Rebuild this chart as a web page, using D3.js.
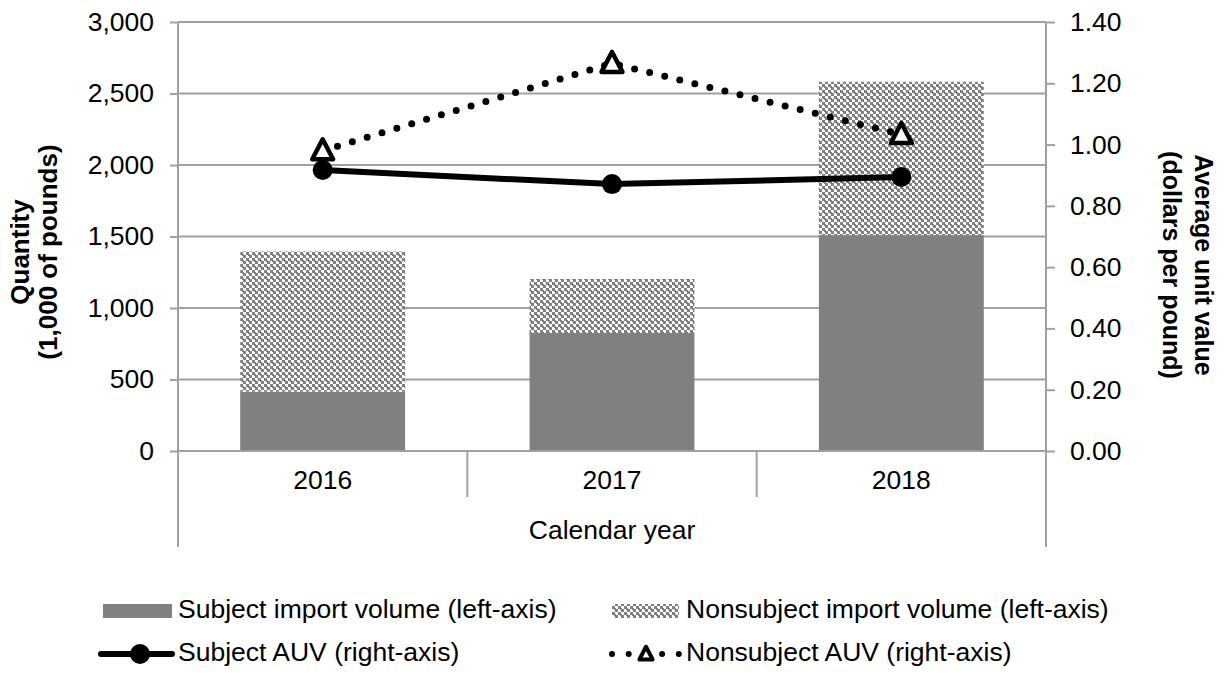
<!DOCTYPE html>
<html>
<head>
<meta charset="utf-8">
<script src="https://cdn.jsdelivr.net/npm/d3@7"></script>
<style>
  body { margin: 0; background: #fff; }
  text { font-family: "Liberation Sans", Arial, sans-serif; fill: #000; }
</style>
</head>
<body>
<script>
const years = ["2016", "2017", "2018"];
const subjectVolume = [415, 825, 1510];
const nonsubjectVolume = [980, 378, 1072];
const subjectAUV = [0.917, 0.871, 0.894];
const nonsubjectAUV = [0.980, 1.265, 1.033];
const leftTicks = [0, 500, 1000, 1500, 2000, 2500, 3000];
const rightTicks = [0, 0.2, 0.4, 0.6, 0.8, 1.0, 1.2, 1.4];

const W = 1228, H = 675;
const plot = { left: 178, right: 1046, top: 22, bottom: 451 };
const gridColor = "#a0a0a0";
const fs = "26.5px";

const svg = d3.select("body").append("svg")
    .attr("width", W)
    .attr("height", H);

// checker pattern for nonsubject bars
const defs = svg.append("defs");
const pat = defs.append("pattern")
    .attr("id", "checker")
    .attr("patternUnits", "userSpaceOnUse")
    .attr("width", 6)
    .attr("height", 6);
pat.append("rect").attr("width", 6).attr("height", 6).attr("fill", "#fff");
pat.append("rect").attr("x", 0).attr("y", 0).attr("width", 3).attr("height", 3).attr("fill", "#808080");
pat.append("rect").attr("x", 3).attr("y", 3).attr("width", 3).attr("height", 3).attr("fill", "#808080");
pat.append("rect").attr("x", 2).attr("y", 2).attr("width", 2).attr("height", 2).attr("fill", "#808080");
pat.append("rect").attr("x", 5).attr("y", 5).attr("width", 2).attr("height", 2).attr("fill", "#808080");

const x = d3.scaleBand()
    .domain(years)
    .range([plot.left, plot.right]);
const barW = x.bandwidth() * 0.57;

const yLeft = d3.scaleLinear()
    .domain([0, 3000])
    .range([plot.bottom, plot.top]);

const yRight = d3.scaleLinear()
    .domain([0, 1.4])
    .range([plot.bottom, plot.top]);

// gridlines
svg.append("g")
    .selectAll("line")
    .data(leftTicks.slice(1))
    .join("line")
    .attr("x1", plot.left)
    .attr("x2", plot.right)
    .attr("y1", d => yLeft(d))
    .attr("y2", d => yLeft(d))
    .attr("stroke", gridColor)
    .attr("stroke-width", 2);

// bars
const bars = svg.append("g");
bars.selectAll(".subj")
    .data(years)
    .join("rect")
    .attr("class", "subj")
    .attr("x", d => x(d) + (x.bandwidth() - barW) / 2)
    .attr("width", barW)
    .attr("y", (d, i) => yLeft(subjectVolume[i]))
    .attr("height", (d, i) => yLeft(0) - yLeft(subjectVolume[i]))
    .attr("fill", "#808080");

bars.selectAll(".nonsubj")
    .data(years)
    .join("rect")
    .attr("class", "nonsubj")
    .attr("x", d => x(d) + (x.bandwidth() - barW) / 2)
    .attr("width", barW)
    .attr("y", (d, i) => yLeft(subjectVolume[i] + nonsubjectVolume[i]))
    .attr("height", (d, i) => yLeft(subjectVolume[i]) - yLeft(subjectVolume[i] + nonsubjectVolume[i]))
    .attr("fill", "url(#checker)");

// left axis
const leftAxis = svg.append("g")
    .attr("transform", `translate(${plot.left},0)`)
    .call(d3.axisLeft(yLeft).tickValues(leftTicks).tickSize(8).tickPadding(16).tickFormat(d3.format(",")));
leftAxis.select(".domain").remove();
leftAxis.selectAll(".tick line").attr("stroke", gridColor).attr("stroke-width", 2);
leftAxis.selectAll(".tick text").style("font-size", fs).attr("fill", "#000");

// right axis
const rightAxis = svg.append("g")
    .attr("transform", `translate(${plot.right},0)`)
    .call(d3.axisRight(yRight).tickValues(rightTicks).tickSize(9).tickPadding(15).tickFormat(d3.format(".2f")));
rightAxis.select(".domain").remove();
rightAxis.selectAll(".tick line").attr("stroke", gridColor).attr("stroke-width", 2);
rightAxis.selectAll(".tick text").style("font-size", fs).attr("fill", "#000");

// frame lines: left, right, bottom and category dividers
const frame = svg.append("g").attr("stroke", gridColor).attr("stroke-width", 2);
frame.append("line").attr("x1", plot.left).attr("x2", plot.left).attr("y1", plot.top).attr("y2", 547);
frame.append("line").attr("x1", plot.right).attr("x2", plot.right).attr("y1", plot.top).attr("y2", 547);
frame.append("line").attr("x1", plot.left).attr("x2", plot.right).attr("y1", plot.bottom).attr("y2", plot.bottom);
frame.selectAll(".div")
    .data(years.slice(1))
    .join("line")
    .attr("x1", d => x(d))
    .attr("x2", d => x(d))
    .attr("y1", plot.bottom)
    .attr("y2", 497);

// category labels
svg.append("g")
    .selectAll("text")
    .data(years)
    .join("text")
    .attr("x", d => x(d) + x.bandwidth() / 2)
    .attr("y", 482)
    .attr("text-anchor", "middle")
    .attr("dominant-baseline", "middle")
    .style("font-size", fs)
    .text(d => d);

svg.append("text")
    .attr("x", (plot.left + plot.right) / 2)
    .attr("y", 532)
    .attr("text-anchor", "middle")
    .attr("dominant-baseline", "middle")
    .style("font-size", fs)
    .text("Calendar year");

// axis titles
const lt = svg.append("text")
    .attr("transform", "translate(36,252) rotate(-90)")
    .attr("text-anchor", "middle")
    .style("font-size", "26px")
    .style("font-weight", "bold");
lt.append("tspan").attr("x", 0).attr("y", -14).attr("dominant-baseline", "middle").text("Quantity");
lt.append("tspan").attr("x", 0).attr("y", 14).attr("dominant-baseline", "middle").text("(1,000 of pounds)");

const rt = svg.append("text")
    .attr("transform", "translate(1186,265) rotate(90)")
    .attr("text-anchor", "middle")
    .style("font-size", "25px")
    .style("font-weight", "bold");
rt.append("tspan").attr("x", 0).attr("y", -16).attr("dominant-baseline", "middle").text("Average unit value");
rt.append("tspan").attr("x", 0).attr("y", 16).attr("dominant-baseline", "middle").text("(dollars per pound)");

// lines
const cx = d => x(d) + x.bandwidth() / 2;

const auvLine = d3.line()
    .x((d, i) => cx(years[i]))
    .y(d => yRight(d));

svg.append("path")
    .datum(nonsubjectAUV)
    .attr("d", auvLine)
    .attr("fill", "none")
    .attr("stroke", "#000")
    .attr("stroke-width", 7)
    .attr("stroke-linecap", "round")
    .attr("stroke-dasharray", "0,15.5");

svg.append("path")
    .datum(subjectAUV)
    .attr("d", auvLine)
    .attr("fill", "none")
    .attr("stroke", "#000")
    .attr("stroke-width", 6);

svg.append("g")
    .selectAll("circle")
    .data(subjectAUV)
    .join("circle")
    .attr("cx", (d, i) => cx(years[i]))
    .attr("cy", d => yRight(d))
    .attr("r", 10)
    .attr("fill", "#000");

const tri = s => `M0,${-s * 0.6}L${s * 0.55},${s * 0.45}L${-s * 0.55},${s * 0.45}Z`;

svg.append("g")
    .selectAll("path")
    .data(nonsubjectAUV)
    .join("path")
    .attr("transform", (d, i) => `translate(${cx(years[i])},${yRight(d)})`)
    .attr("d", tri(19))
    .attr("fill", "#fff")
    .attr("stroke", "#000")
    .attr("stroke-width", 4.5)
    .attr("stroke-linejoin", "round");

// legend
const row1 = 611, row2 = 654;
const legend = svg.append("g");
legend.append("rect").attr("x", 103).attr("y", 604).attr("width", 69).attr("height", 14).attr("fill", "#808080");
legend.append("text").attr("x", 178).attr("y", row1).attr("dominant-baseline", "middle").style("font-size", fs)
    .text("Subject import volume (left-axis)");

legend.append("rect").attr("x", 612).attr("y", 604).attr("width", 67).attr("height", 14).attr("fill", "url(#checker)");
legend.append("text").attr("x", 686).attr("y", row1).attr("dominant-baseline", "middle").style("font-size", fs)
    .text("Nonsubject import volume (left-axis)");

legend.append("line").attr("x1", 101).attr("x2", 172).attr("y1", row2).attr("y2", row2)
    .attr("stroke", "#000").attr("stroke-width", 6).attr("stroke-linecap", "round");
legend.append("circle").attr("cx", 140).attr("cy", row2).attr("r", 10).attr("fill", "#000");
legend.append("text").attr("x", 178).attr("y", row2).attr("dominant-baseline", "middle").style("font-size", fs)
    .text("Subject AUV (right-axis)");

legend.append("line").attr("x1", 612).attr("x2", 680).attr("y1", row2).attr("y2", row2)
    .attr("stroke", "#000").attr("stroke-width", 6).attr("stroke-linecap", "round")
    .attr("stroke-dasharray", "0,16.7");
legend.append("path").attr("transform", `translate(646,${row2})`).attr("d", tri(12))
    .attr("fill", "#fff").attr("stroke", "#000").attr("stroke-width", 4).attr("stroke-linejoin", "round");
legend.append("text").attr("x", 686).attr("y", row2).attr("dominant-baseline", "middle").style("font-size", fs)
    .text("Nonsubject AUV (right-axis)");
</script>
</body>
</html>
